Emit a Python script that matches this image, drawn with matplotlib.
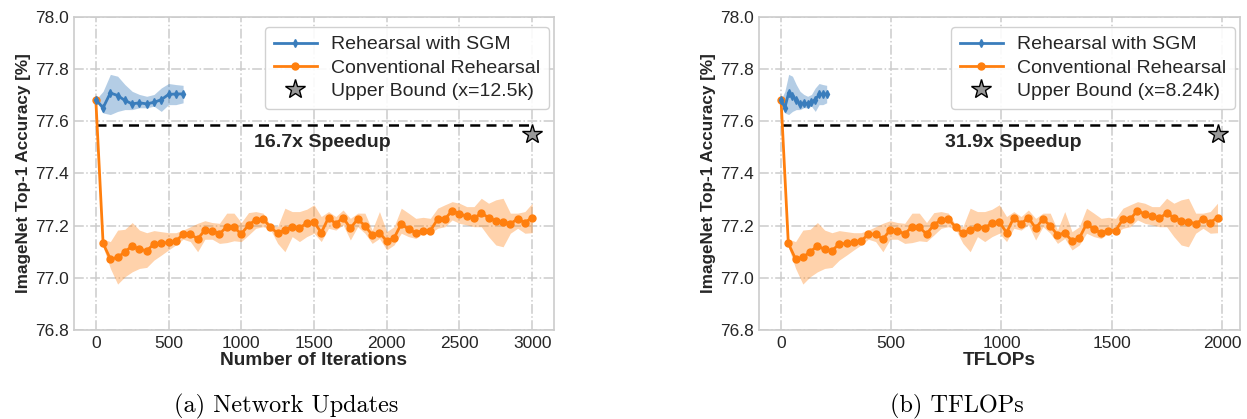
import numpy as np
import matplotlib
matplotlib.use("Agg")
import matplotlib.pyplot as plt

# ---------------- data ----------------
# iterations of each evaluated checkpoint
sgm_iters = [0, 50, 100, 150, 200, 250, 300, 350, 400, 450, 500, 550, 600]
conv_iters = list(range(0, 3001, 50))

sgm_mean = [77.683, 77.652, 77.709, 77.699, 77.680, 77.667, 77.671, 77.667,
            77.673, 77.683, 77.703, 77.705, 77.705]
sgm_upper = [77.683, 77.715, 77.780, 77.773, 77.741, 77.715, 77.703, 77.696,
             77.703, 77.728, 77.745, 77.741, 77.738]
sgm_lower = [77.683, 77.632, 77.626, 77.638, 77.645, 77.645, 77.652, 77.652,
             77.658, 77.638, 77.664, 77.664, 77.671]

conv_mean = [77.683,
             77.132, 77.072, 77.078, 77.100, 77.122, 77.109, 77.104, 77.130, 77.132, 77.136,
             77.141, 77.167, 77.168, 77.149, 77.183, 77.181, 77.168, 77.196, 77.194, 77.168,
             77.203, 77.222, 77.226, 77.194, 77.171, 77.183, 77.196, 77.192, 77.209, 77.215,
             77.173, 77.231, 77.207, 77.231, 77.190, 77.225, 77.200, 77.164, 77.173, 77.141,
             77.152, 77.207, 77.186, 77.173, 77.181, 77.181, 77.225, 77.225, 77.258, 77.244,
             77.237, 77.228, 77.248, 77.231, 77.218, 77.215, 77.207, 77.226, 77.212, 77.231]
conv_upper = [77.683,
              77.148, 77.139, 77.183, 77.186, 77.212, 77.183, 77.173, 77.181, 77.177, 77.173,
              77.173, 77.183, 77.196, 77.209, 77.219, 77.212, 77.209, 77.248, 77.248, 77.212,
              77.250, 77.254, 77.248, 77.203, 77.196, 77.267, 77.254, 77.254, 77.263, 77.280,
              77.235, 77.254, 77.235, 77.260, 77.228, 77.248, 77.248, 77.183, 77.254, 77.177,
              77.196, 77.267, 77.248, 77.228, 77.232, 77.228, 77.267, 77.280, 77.292, 77.286,
              77.273, 77.273, 77.305, 77.286, 77.299, 77.305, 77.248, 77.248, 77.254, 77.286]
conv_lower = [77.683,
              77.119, 77.036, 76.976, 77.004, 77.023, 77.036, 77.040, 77.068, 77.087, 77.107,
              77.126, 77.148, 77.139, 77.100, 77.148, 77.148, 77.132, 77.135, 77.142, 77.139,
              77.164, 77.190, 77.196, 77.186, 77.132, 77.100, 77.158, 77.139, 77.158, 77.171,
              77.139, 77.190, 77.183, 77.203, 77.145, 77.196, 77.171, 77.132, 77.151, 77.107,
              77.126, 77.171, 77.158, 77.151, 77.171, 77.171, 77.190, 77.196, 77.222, 77.209,
              77.203, 77.196, 77.196, 77.158, 77.126, 77.119, 77.171, 77.190, 77.171, 77.173]

# TFLOPs per iteration for each method
tflops_per_iter_sgm = 0.345
tflops_per_iter_conv = 0.66

upper_bound_acc = 77.55
speedup_line_acc = 77.587
speedup_labels = ["16.7x Speedup", "31.9x Speedup"]
upper_bound_labels = ["Upper Bound (x=12.5k)", "Upper Bound (x=8.24k)"]
xlabels = ["Number of Iterations", "TFLOPs"]
captions = ["(a) Network Updates", "(b) TFLOPs"]
yticks = [76.8, 77.0, 77.2, 77.4, 77.6, 77.8, 78.0]
xticks_list = [[0, 500, 1000, 1500, 2000, 2500, 3000], [0, 500, 1000, 1500, 2000]]

# ---------------- style ----------------
plt.rcParams['font.family'] = ['Liberation Sans', 'DejaVu Sans']
BLUE = '#3a7dbc'
ORANGE = '#ff7f0e'
GRID = '#cccccc'
TXT = '#262626'

fig = plt.figure(figsize=(12.47, 4.19), dpi=100)
ax_pos = [[74 / 1247, 89 / 419, 480 / 1247, 313 / 419],
          [759 / 1247, 89 / 419, 481 / 1247, 313 / 419]]
xlims = [(-150, 3150), (-100, 2082)]
scales = [(1.0, 1.0), (tflops_per_iter_sgm, tflops_per_iter_conv)]
text_x = [1560, 1055]
end_x = [3000, 1980]
leg_anchor = [((549 - 74) / 480, (330 - 27) / 313), ((1235 - 759) / 481, (330 - 27) / 313)]

for k in range(2):
    ax = fig.add_axes(ax_pos[k])
    s_sgm, s_conv = scales[k]
    xs = np.array(sgm_iters) * s_sgm
    xc = np.array(conv_iters) * s_conv

    ax.fill_between(xc, conv_lower, conv_upper, color=ORANGE, alpha=0.35, lw=0)
    ax.fill_between(xs, sgm_lower, sgm_upper, color=BLUE, alpha=0.38, lw=0)
    ax.plot(xs, sgm_mean, color=BLUE, lw=2, marker='d', ms=4,
            label='Rehearsal with SGM', zorder=4)
    ax.plot(xc, conv_mean, color=ORANGE, lw=2, marker='o', ms=5,
            label='Conventional Rehearsal', zorder=3)
    ax.plot([0, end_x[k]], [speedup_line_acc, speedup_line_acc], color='black',
            ls=(0, (4, 2.5)), lw=1.8, zorder=2)
    ax.plot([end_x[k]], [upper_bound_acc], ls='none', marker='*', ms=15,
            mfc='#999999', mec='black', mew=1.0, label=upper_bound_labels[k], zorder=5)
    ax.text(text_x[k], 77.52, speedup_labels[k], ha='center', va='center',
            fontsize=14, fontweight='bold', color=TXT)

    ax.set_xlim(*xlims[k])
    ax.set_ylim(76.8, 78.0)
    ax.set_yticks(yticks)
    ax.set_yticklabels([f"{v:.1f}" for v in yticks])
    ax.set_xticks(xticks_list[k])
    ax.tick_params(axis='both', length=0, labelsize=12.5, labelcolor=TXT, pad=4)
    ax.grid(True, color=GRID, ls='-.', lw=1.1)
    ax.set_axisbelow(True)
    for sp in ax.spines.values():
        sp.set_color(GRID)
        sp.set_linewidth(1.2)
    ax.set_xlabel(xlabels[k], fontsize=13.8, fontweight='bold', color=TXT, labelpad=1)
    ax.set_ylabel('ImageNet Top-1 Accuracy [%]', fontsize=12.3, fontweight='bold',
                  color=TXT, labelpad=3)
    leg = ax.legend(loc='upper right', bbox_to_anchor=leg_anchor[k], borderaxespad=0,
                    fontsize=14, frameon=True, fancybox=True,
                    edgecolor=GRID, framealpha=0.9,
                    handlelength=2.2, handletextpad=0.75, labelspacing=0.3,
                    borderpad=0.45)
    for t in leg.get_texts():
        t.set_color(TXT)

fig.text(286 / 1247, 1 - 406 / 419, captions[0], ha='center', va='center',
         fontsize=17.5, family='cmr10', color='black')
fig.text(957 / 1247, 1 - 406 / 419, captions[1], ha='center', va='center',
         fontsize=17.5, family='cmr10', color='black')

fig.savefig('out.png', dpi=100)
